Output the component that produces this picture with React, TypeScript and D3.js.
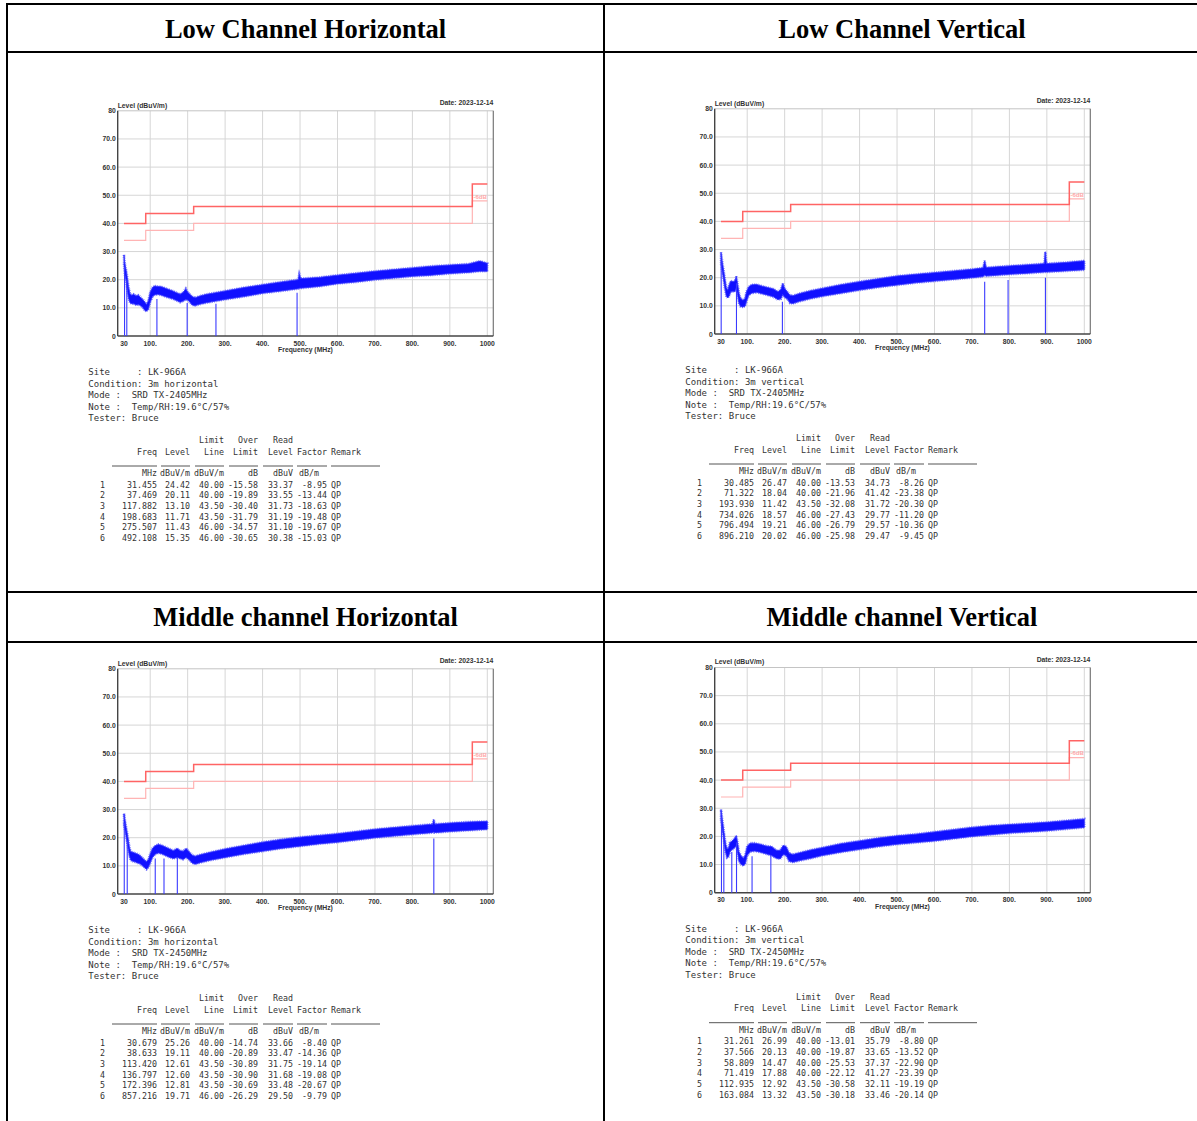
import React from "react";
import * as d3 from "d3";

// axis ticks
const freqTicks = [30, 100, 200, 300, 400, 500, 600, 700, 800, 900, 1000];
const freqTickLabels = ["30", "100.", "200.", "300.", "400.", "500.", "600.", "700.", "800.", "900.", "1000"];
const levelTicks = [0, 10, 20, 30, 40, 50, 60, 70, 80];
const levelTickLabels = ["0", "10.0", "20.0", "30.0", "40.0", "50.0", "60.0", "70.0", "80"];

// limit line and -6dB margin line (step after)
const limitFreqs = [30, 88, 216, 960, 1000];
const limitLevels = [40, 43.5, 46, 54, 54];
const marginLevels = [34, 37.5, 40, 48, 48];

const titles = ["Low Channel Horizontal", "Low Channel Vertical", "Middle channel Horizontal", "Middle channel Vertical"];
const conditions = ["horizontal", "vertical", "horizontal", "vertical"];
const modes = ["2405MHz", "2405MHz", "2450MHz", "2450MHz"];

// measured noise floor envelope: [MHz, low dBuV/m, high dBuV/m]
const lowHTrace = [
  [30, 25, 28.8], [32, 22, 26], [35, 20, 24], [38, 17, 21.5], [42, 13.5, 17.5], [46, 11.8, 15], [50, 11.5, 14.5],
  [56, 11.5, 14.8], [62, 11, 14.2], [68, 11.2, 14.5], [74, 10.8, 13.8], [80, 10.2, 13], [86, 9, 12], [90, 8.8, 11.2],
  [95, 9.5, 12.5], [100, 12, 15.5], [106, 14, 17.2], [112, 14.6, 17.8], [120, 14.8, 17.6], [130, 14.5, 17.5],
  [140, 14, 17], [150, 13.6, 16.5], [160, 13.2, 16], [170, 12.6, 15.4], [180, 12, 14.8], [188, 12.4, 15.5],
  [195, 13, 16.8], [200, 12.8, 15.6], [206, 12, 14.8], [212, 11, 14], [220, 10.8, 13.6], [235, 11.4, 14.3],
  [250, 11.8, 14.8], [275, 12.4, 15.4], [300, 13, 16], [350, 14, 17.2], [400, 15.2, 18.2], [450, 16, 19.2],
  [495, 16.8, 20], [498, 17, 22], [502, 17, 20.4], [550, 17.6, 20.8], [600, 18.6, 21.6], [650, 19.2, 22.3],
  [700, 20, 23], [750, 20.6, 23.6], [800, 21.2, 24.2], [850, 21.6, 24.8], [900, 22.2, 25.2], [950, 22.6, 25.6],
  [980, 23, 26.6], [1000, 23, 25.8],
];
const lowVTrace = [
  [30, 25, 29], [33, 22.5, 26], [36, 20, 23.5], [40, 16.5, 20], [44, 13.5, 16.5], [48, 12.8, 15.5], [52, 13.5, 17.5],
  [56, 15, 18.8], [62, 15.2, 18.6], [67, 15, 18.8], [71, 16.5, 20.5], [74, 14, 18], [78, 11, 14.5], [82, 9.8, 12.8],
  [88, 9.6, 12], [94, 9.8, 12.5], [98, 11.5, 15], [104, 13.8, 16.8], [112, 14.5, 17.5], [125, 14.8, 17.6],
  [140, 14.3, 17], [155, 13.8, 16.5], [170, 13.2, 16], [182, 12.2, 15], [190, 12.5, 15.8], [195, 14, 18],
  [200, 13, 16.2], [207, 12.5, 15], [214, 11, 13.8], [222, 10.8, 13.6], [240, 11.6, 14.4], [270, 12.6, 15.4],
  [300, 13.4, 16.2], [350, 14.5, 17.5], [400, 15.6, 18.6], [450, 16.6, 19.6], [500, 17.4, 20.6], [550, 18.2, 21.2],
  [600, 18.8, 21.8], [650, 19.4, 22.4], [700, 20, 23], [730, 20.4, 23.5], [734, 21, 26], [738, 20.6, 23.6],
  [800, 21.2, 24.2], [850, 21.6, 24.6], [893, 22, 25], [896, 22, 29.2], [899, 22, 25], [950, 22.4, 25.4],
  [1000, 22.8, 26],
];
const midHTrace = [
  [30, 24.5, 28.5], [33, 22.5, 26], [36, 20, 23.5], [40, 17, 20.5], [44, 13.8, 17], [48, 12, 15], [54, 11.6, 14.8],
  [60, 11.4, 14.5], [66, 11, 14.2], [72, 10.8, 13.8], [78, 10.2, 13], [84, 9.5, 12.2], [90, 8.8, 11.5],
  [95, 9.4, 12.2], [100, 11, 14.2], [106, 13, 16.2], [114, 14.2, 17.2], [122, 14.6, 17.6], [132, 14.2, 17.2],
  [142, 13.6, 16.6], [152, 13, 16], [162, 12.6, 15.4], [172, 13, 16.2], [180, 12.6, 15.4], [188, 12.3, 15.2],
  [196, 13, 16.2], [204, 12.2, 15], [212, 11, 13.8], [220, 10.6, 13.4], [235, 11.2, 14], [260, 12, 14.8],
  [300, 13, 16], [350, 14.2, 17.2], [400, 15.2, 18.4], [450, 16.2, 19.4], [500, 17, 20.2], [550, 17.8, 20.8],
  [600, 18.4, 21.4], [650, 19.2, 22.2], [700, 20, 23], [750, 20.6, 23.6], [800, 21.2, 24.2], [854, 21.8, 24.8],
  [857, 22, 26.5], [860, 21.8, 24.8], [900, 22.2, 25.2], [950, 22.6, 25.6], [1000, 23, 25.8],
];
const midVTrace = [
  [30, 25.5, 29.5], [32, 24, 27.5], [35, 21, 24.5], [38, 18, 21.5], [42, 14.5, 17.5], [46, 12.5, 15.5],
  [50, 12.8, 15.8], [54, 14.5, 17.8], [58, 15.2, 18.2], [63, 15.6, 18.8], [68, 16.2, 19.6], [71, 16.8, 20.3],
  [74, 14.5, 18], [78, 11.2, 14.5], [84, 10, 13], [90, 9.6, 12.2], [95, 10.4, 13.5], [100, 13.2, 16.5],
  [108, 14.6, 17.6], [120, 14.8, 17.6], [135, 14.4, 17.2], [150, 13.8, 16.6], [165, 13.2, 16.4], [178, 12.2, 15],
  [188, 12, 15], [196, 13.6, 16.8], [204, 13.2, 16.4], [212, 11.2, 14], [222, 10.8, 13.6], [240, 11.4, 14.2],
  [270, 12.2, 15.2], [300, 13.2, 16], [350, 14.4, 17.4], [400, 15.4, 18.4], [450, 16.4, 19.4], [500, 17.2, 20.2],
  [550, 17.8, 20.8], [600, 18.4, 21.6], [650, 19.2, 22.4], [700, 20, 23.2], [750, 20.6, 23.8], [800, 21.2, 24.2],
  [850, 21.6, 24.6], [900, 22, 25], [950, 22.6, 25.6], [1000, 23.2, 26.2],
];
const traces = [lowHTrace, lowVTrace, midHTrace, midVTrace];

// QP results tables
const lowHFreq = [31.455, 37.469, 117.882, 198.683, 275.507, 492.108];
const lowHLevel = [24.42, 20.11, 13.1, 11.71, 11.43, 15.35];
const lowHLimit = [40, 40, 43.5, 43.5, 46, 46];
const lowHOver = [-15.58, -19.89, -30.4, -31.79, -34.57, -30.65];
const lowHRead = [33.37, 33.55, 31.73, 31.19, 31.1, 30.38];
const lowHFactor = [-8.95, -13.44, -18.63, -19.48, -19.67, -15.03];

const lowVFreq = [30.485, 71.322, 193.93, 734.026, 796.494, 896.21];
const lowVLevel = [26.47, 18.04, 11.42, 18.57, 19.21, 20.02];
const lowVLimit = [40, 40, 43.5, 46, 46, 46];
const lowVOver = [-13.53, -21.96, -32.08, -27.43, -26.79, -25.98];
const lowVRead = [34.73, 41.42, 31.72, 29.77, 29.57, 29.47];
const lowVFactor = [-8.26, -23.38, -20.3, -11.2, -10.36, -9.45];

const midHFreq = [30.679, 38.633, 113.42, 136.797, 172.396, 857.216];
const midHLevel = [25.26, 19.11, 12.61, 12.6, 12.81, 19.71];
const midHLimit = [40, 40, 43.5, 43.5, 43.5, 46];
const midHOver = [-14.74, -20.89, -30.89, -30.9, -30.69, -26.29];
const midHRead = [33.66, 33.47, 31.75, 31.68, 33.48, 29.5];
const midHFactor = [-8.4, -14.36, -19.14, -19.08, -20.67, -9.79];

const midVFreq = [31.261, 37.566, 58.809, 71.419, 112.935, 163.084];
const midVLevel = [26.99, 20.13, 14.47, 17.88, 12.92, 13.32];
const midVLimit = [40, 40, 40, 40, 43.5, 43.5];
const midVOver = [-13.01, -19.87, -25.53, -22.12, -30.58, -30.18];
const midVRead = [35.79, 33.65, 37.37, 41.27, 32.11, 33.46];
const midVFactor = [-8.8, -13.52, -22.9, -23.39, -19.19, -20.14];

const tables = [
  [lowHFreq, lowHLevel, lowHLimit, lowHOver, lowHRead, lowHFactor],
  [lowVFreq, lowVLevel, lowVLimit, lowVOver, lowVRead, lowVFactor],
  [midHFreq, midHLevel, midHLimit, midHOver, midHRead, midHFactor],
  [midVFreq, midVLevel, midVLimit, midVOver, midVRead, midVFactor],
];

// where each panel sits relative to the first one
const offsets = [[0, 0], [597, -2], [0, 558], [597, 556.7]];

const x = d3.scaleLinear().domain([30, 1000]).range([124, 487.3]);
const y = d3.scaleLinear().domain([0, 80]).range([336, 110.8]);

const labelFont = "'Liberation Sans', Arial, sans-serif";
const monoFont = "'DejaVu Sans Mono', monospace";

const Panel = ({ idx }: { idx: number }) => {
  const [dx, dy] = offsets[idx];
  const left = x(30) - 6.3;
  const right = x(1000) + 6;
  const area = d3
    .area<number[]>()
    .x((d) => x(d[0]))
    .y0((d) => y(d[1]))
    .y1((d) => y(d[2]));
  const step = d3
    .line<[number, number]>()
    .x((d) => x(d[0]))
    .y((d) => y(d[1]))
    .curve(d3.curveStepAfter);
  const limitPts = limitFreqs.map((f, i) => [f, limitLevels[i]] as [number, number]);
  const marginPts = limitFreqs.map((f, i) => [f, marginLevels[i]] as [number, number]);
  const [freq, level, limit, over, read, factor] = tables[idx];
  const info = [
    "Site     : LK-966A",
    "Condition: 3m " + conditions[idx],
    "Mode :  SRD TX-" + modes[idx],
    "Note :  Temp/RH:19.6\u00b0C/57%",
    "Tester: Bruce",
  ];
  const colEnds = [157, 190, 224, 258, 293, 327];
  const rules = [[112, 157], [161, 190], [195, 224], [229, 258], [263, 293], [297, 327], [331, 380]];
  const bandPath = area(traces[idx] as number[][]) || "";
  return (
    <g transform={`translate(${dx},${dy})`}>
      {/* grid */}
      {freqTicks.slice(1).map((f) => (
        <line key={"gx" + f} x1={x(f)} x2={x(f)} y1={y(80)} y2={y(0)} stroke="#d6d6d6" strokeWidth={1} />
      ))}
      {levelTicks.slice(1, -1).map((v) => (
        <line key={"gy" + v} x1={left} x2={right} y1={y(v)} y2={y(v)} stroke="#d6d6d6" strokeWidth={1} />
      ))}
      <line x1={left} x2={right} y1={y(80)} y2={y(80)} stroke="#c4c4c4" />
      <line x1={right} x2={right} y1={y(80)} y2={y(0)} stroke="#777" strokeWidth={1.2} />
      <line x1={left} x2={left} y1={y(80)} y2={y(0)} stroke="#444" strokeWidth={1.4} />
      <line x1={left} x2={right} y1={y(0)} y2={y(0)} stroke="#444" strokeWidth={1.4} />
      {/* limit lines */}
      <path d={step(marginPts) || ""} fill="none" stroke="#ffb4b4" strokeWidth={1.2} />
      <path d={step(limitPts) || ""} fill="none" stroke="#ff6464" strokeWidth={1.5} />
      <text x={x(963)} y={y(49.6) + 2.2} fontFamily={labelFont} fontSize={6} fontWeight="bold" fill="#ffa8a8">
        -6dB
      </text>
      {/* trace */}
      <path d={bandPath} fill="none" stroke="#7070ff" strokeWidth={2.6} strokeDasharray="0.7 1.1" />
      <path d={bandPath} fill="#1010ff" stroke="#3535ff" strokeWidth={0.8} strokeLinejoin="round" />
      {/* QP markers */}
      {freq.map((f, i) => (
        <line key={"m" + i} x1={x(f)} x2={x(f)} y1={y(0)} y2={y(level[i])} stroke="#3a3aff" strokeWidth={1.1} />
      ))}
      {/* axis labels */}
      {levelTicks.map((v, i) => (
        <text key={"yl" + v} x={left - 2} y={y(v) + 2.5} textAnchor="end" fontFamily={labelFont} fontSize={6.8}
          fontWeight="bold" fill="#333">
          {levelTickLabels[i]}
        </text>
      ))}
      {freqTicks.map((f, i) => (
        <text key={"xl" + f} x={x(f)} y={y(0) + 9.5} textAnchor="middle" fontFamily={labelFont} fontSize={6.8}
          fontWeight="bold" fill="#333">
          {freqTickLabels[i]}
        </text>
      ))}
      <text x={(left + right) / 2} y={y(0) + 16} textAnchor="middle" fontFamily={labelFont} fontSize={6.8}
        fontWeight="bold" fill="#333">
        Frequency (MHz)
      </text>
      <text x={left} y={y(80) - 3} fontFamily={labelFont} fontSize={6.8} fontWeight="bold" fill="#333">
        Level (dBuV/m)
      </text>
      <text x={right} y={y(80) - 5.5} textAnchor="end" fontFamily={labelFont} fontSize={6.8} fontWeight="bold" fill="#333">
        Date: 2023-12-14
      </text>
      {/* info block */}
      {info.map((s, i) => (
        <text key={"i" + i} x={88.3} y={375 + i * 11.5} fontFamily={monoFont} fontSize={9} fill="#333" xmlSpace="preserve">
          {s}
        </text>
      ))}
      {/* table header */}
      <g fontFamily={monoFont} fontSize={8.3} fill="#333">
        {["Limit", "Over", "Read"].map((s, i) => (
          <text key={"h1" + i} x={colEnds[i + 2]} y={443} textAnchor="end">{s}</text>
        ))}
        {["Freq", "Level", "Line", "Limit", "Level", "Factor"].map((s, i) => (
          <text key={"h2" + i} x={colEnds[i]} y={454.5} textAnchor="end">{s}</text>
        ))}
        <text x={331} y={454.5}>Remark</text>
        {["MHz", "dBuV/m", "dBuV/m", "dB", "dBuV"].map((s, i) => (
          <text key={"u" + i} x={colEnds[i]} y={476} textAnchor="end">{s}</text>
        ))}
        <text x={319} y={476} textAnchor="end">dB/m</text>
        {freq.map((f, i) => {
          const yy = 487.5 + i * 10.7;
          return (
            <g key={"r" + i}>
              <text x={100} y={yy}>{i + 1}</text>
              <text x={colEnds[0]} y={yy} textAnchor="end">{f.toFixed(3)}</text>
              <text x={colEnds[1]} y={yy} textAnchor="end">{level[i].toFixed(2)}</text>
              <text x={colEnds[2]} y={yy} textAnchor="end">{limit[i].toFixed(2)}</text>
              <text x={colEnds[3]} y={yy} textAnchor="end">{over[i].toFixed(2)}</text>
              <text x={colEnds[4]} y={yy} textAnchor="end">{read[i].toFixed(2)}</text>
              <text x={colEnds[5]} y={yy} textAnchor="end">{factor[i].toFixed(2)}</text>
              <text x={331} y={yy}>QP</text>
            </g>
          );
        })}
      </g>
      {rules.map(([a, b], i) => (
        <line key={"rl" + i} x1={a} x2={b} y1={466} y2={466} stroke="#555" strokeWidth={1} />
      ))}
    </g>
  );
};

const App = () => {
  const W = 1197;
  const H = 1121;
  return (
    <svg width={W} height={H} style={{ position: "absolute", left: 0, top: 0, background: "#fff" }}>
      <rect width={W} height={H} fill="#fff" />
      {/* table borders */}
      <line x1={7} x2={7} y1={3} y2={H} stroke="#000" strokeWidth={2} />
      <line x1={604} x2={604} y1={3} y2={H} stroke="#000" strokeWidth={2} />
      {[4, 52, 592, 642].map((v) => (
        <line key={v} x1={6} x2={W} y1={v} y2={v} stroke="#000" strokeWidth={2} />
      ))}
      {titles.map((t, i) => (
        <text key={t} x={i % 2 === 0 ? 305.5 : 902} y={i < 2 ? 38 : 626} textAnchor="middle"
          fontFamily="'Liberation Serif', 'Times New Roman', serif" fontWeight="bold" fontSize={26.5} fill="#000">
          {t}
        </text>
      ))}
      {[0, 1, 2, 3].map((i) => (
        <Panel key={i} idx={i} />
      ))}
    </svg>
  );
};

export default App;
